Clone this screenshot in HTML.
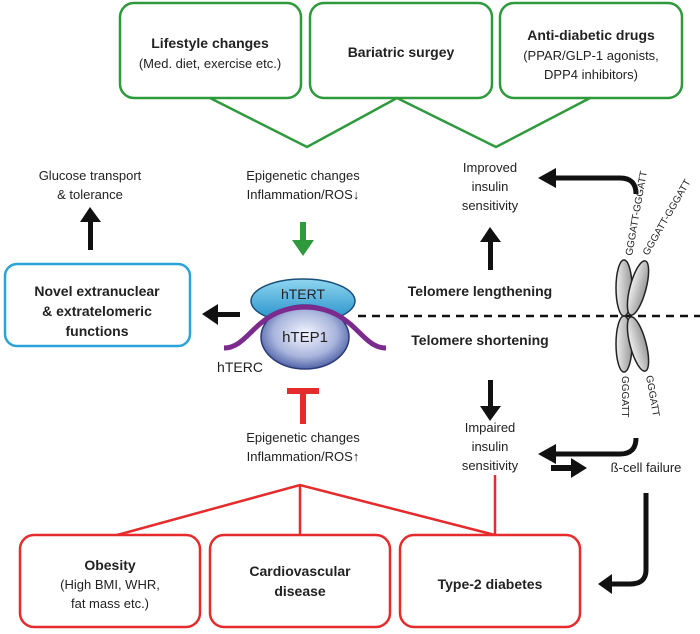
<!DOCTYPE html>
<html><head><meta charset="utf-8"><style>
html,body{margin:0;padding:0;background:#fff}
svg{display:block}
text{font-family:"Liberation Sans",sans-serif;fill:#222}
.b{font-weight:bold}
</style></head><body>
<svg width="700" height="634" viewBox="0 0 700 634" xmlns="http://www.w3.org/2000/svg">
<defs>
<radialGradient id="g1" cx="50%" cy="45%" r="60%"><stop offset="0" stop-color="#f4f6ff"/><stop offset="0.6" stop-color="#a8b4dc"/><stop offset="1" stop-color="#3b4f9a"/></radialGradient>
<linearGradient id="g2" x1="0" y1="0" x2="0" y2="1"><stop offset="0" stop-color="#8fd6f0"/><stop offset="1" stop-color="#1f8cc8"/></linearGradient>
<linearGradient id="g3" x1="0" y1="0" x2="1" y2="0"><stop offset="0" stop-color="#eee"/><stop offset="1" stop-color="#999"/></linearGradient>
</defs>
<g fill="none" stroke="#2e9a3c" stroke-width="2.5">
<rect x="120" y="3" width="181" height="95" rx="14"/>
<rect x="310" y="3" width="182" height="95" rx="14"/>
<rect x="500" y="3" width="182" height="95" rx="14"/>
<polyline points="210,98 307,147 397,98 496,147 590,98"/>
</g>
<text x="210" y="48" text-anchor="middle" font-size="14" class="b">Lifestyle changes</text>
<text x="210" y="68" text-anchor="middle" font-size="13">(Med. diet, exercise etc.)</text>
<text x="401" y="57" text-anchor="middle" font-size="14" class="b">Bariatric surgey</text>
<text x="591" y="40" text-anchor="middle" font-size="14" class="b">Anti-diabetic drugs</text>
<text x="591" y="60" text-anchor="middle" font-size="13">(PPAR/GLP-1 agonists,</text>
<text x="591" y="79" text-anchor="middle" font-size="13">DPP4 inhibitors)</text>

<text x="90" y="180" text-anchor="middle" font-size="13">Glucose transport</text>
<text x="90" y="199" text-anchor="middle" font-size="13">&amp; tolerance</text>
<text x="303" y="180" text-anchor="middle" font-size="13">Epigenetic changes</text>
<text x="303" y="199" text-anchor="middle" font-size="13">Inflammation/ROS↓</text>
<text x="490" y="172" text-anchor="middle" font-size="13">Improved</text>
<text x="490" y="191" text-anchor="middle" font-size="13">insulin</text>
<text x="490" y="210" text-anchor="middle" font-size="13">sensitivity</text>

<g fill="#111">
<rect x="88" y="220" width="5" height="30"/><polygon points="80,222 101,222 90,207"/>
<rect x="488" y="240" width="5" height="30"/><polygon points="480,242 501,242 490,227"/>
<rect x="488" y="380" width="5" height="28"/><polygon points="480,406 501,406 490,421"/>
<rect x="215" y="312" width="25" height="5"/><polygon points="218,304 218,325 202,314"/>
<rect x="551" y="465" width="22" height="6"/><polygon points="571,458 571,478 587,468"/>
</g>
<g fill="none" stroke="#111" stroke-width="5">
<path d="M552,178 H620 Q636,178 636,194"/>
<path d="M552,454 H620 Q636,454 636,438"/>
<path d="M646,493 V570 Q646,584 630,584 H610"/>
</g>
<g fill="#111">
<polygon points="556,168 556,188 538,178"/>
<polygon points="556,444 556,464 538,454"/>
<polygon points="612,574 612,594 598,584"/>
</g>
<rect x="300" y="222" width="6" height="20" fill="#2e9a3c"/>
<polygon points="292,240 314,240 303,256" fill="#2e9a3c"/>
<rect x="300" y="392" width="6" height="32" fill="#e52b2b"/>
<rect x="287" y="388" width="32" height="6" fill="#e52b2b"/>

<rect x="5" y="264" width="185" height="82" rx="12" fill="none" stroke="#2aa3d8" stroke-width="2.5"/>
<text x="97" y="296" text-anchor="middle" font-size="14" class="b">Novel extranuclear</text>
<text x="97" y="316" text-anchor="middle" font-size="14" class="b">&amp; extratelomeric</text>
<text x="97" y="336" text-anchor="middle" font-size="14" class="b">functions</text>

<line x1="358" y1="316" x2="700" y2="316" stroke="#111" stroke-width="2.5" stroke-dasharray="8,6"/>
<text x="480" y="296" text-anchor="middle" font-size="14" class="b">Telomere lengthening</text>
<text x="480" y="345" text-anchor="middle" font-size="14" class="b">Telomere shortening</text>

<ellipse cx="303" cy="301" rx="52" ry="22" fill="url(#g2)" stroke="#1a4f7a" stroke-width="1.5"/>
<ellipse cx="305" cy="337" rx="44" ry="32" fill="url(#g1)" stroke="#2c3b78" stroke-width="1.5"/>
<path d="M224,348 C250,348 255,308 305,307 C355,308 360,348 386,348" fill="none" stroke="#7b2a8e" stroke-width="5"/>
<text x="303" y="299" text-anchor="middle" font-size="14" fill="#222">hTERT</text>
<text x="305" y="342" text-anchor="middle" font-size="15">hTEP1</text>
<text x="240" y="372" text-anchor="middle" font-size="14">hTERC</text>

<g stroke="#222" stroke-width="1.5" fill="url(#g3)">
<ellipse cx="624" cy="288" rx="8" ry="28"/>
<ellipse cx="624" cy="344" rx="8" ry="28"/>
<ellipse cx="638" cy="288" rx="8" ry="28" transform="rotate(15 638 288)"/>
<ellipse cx="638" cy="344" rx="8" ry="28" transform="rotate(-15 638 344)"/>
</g>
<text font-size="10" transform="translate(632,256) rotate(-80)">GGGATT-GGGATT</text>
<text font-size="10" transform="translate(648,256) rotate(-60)">GGGATT-GGGATT</text>
<text font-size="10" transform="translate(622,376) rotate(90)">GGGATT</text>
<text font-size="10" transform="translate(646,376) rotate(80)">GGGATT</text>

<text x="303" y="442" text-anchor="middle" font-size="13">Epigenetic changes</text>
<text x="303" y="461" text-anchor="middle" font-size="13">Inflammation/ROS↑</text>
<text x="490" y="432" text-anchor="middle" font-size="13">Impaired</text>
<text x="490" y="451" text-anchor="middle" font-size="13">insulin</text>
<text x="490" y="470" text-anchor="middle" font-size="13">sensitivity</text>
<text x="646" y="472" text-anchor="middle" font-size="13">ß-cell failure</text>

<g fill="none" stroke="#e52b2b" stroke-width="2.5">
<polyline points="117,535 300,485 495,535"/>
<line x1="300" y1="485" x2="300" y2="535"/>
<line x1="495" y1="475" x2="495" y2="535"/>
<rect x="20" y="535" width="180" height="92" rx="14"/>
<rect x="210" y="535" width="180" height="92" rx="14"/>
<rect x="400" y="535" width="180" height="92" rx="14"/>
</g>
<text x="110" y="570" text-anchor="middle" font-size="14" class="b">Obesity</text>
<text x="110" y="589" text-anchor="middle" font-size="13">(High BMI, WHR,</text>
<text x="110" y="608" text-anchor="middle" font-size="13">fat mass etc.)</text>
<text x="300" y="576" text-anchor="middle" font-size="14" class="b">Cardiovascular</text>
<text x="300" y="596" text-anchor="middle" font-size="14" class="b">disease</text>
<text x="490" y="589" text-anchor="middle" font-size="14" class="b">Type-2 diabetes</text>
</svg>
</body></html>
